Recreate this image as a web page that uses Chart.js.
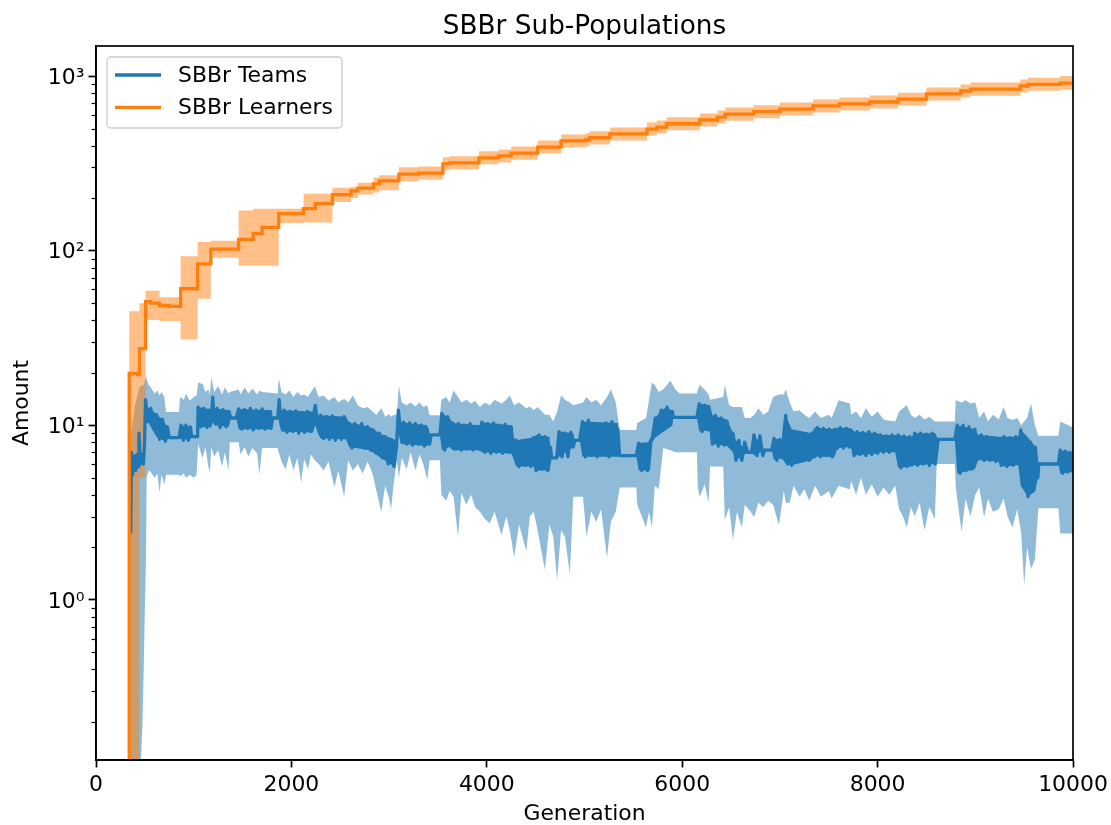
<!DOCTYPE html>
<html>
<head>
<meta charset="utf-8">
<title>SBBr Sub-Populations</title>
<script src="https://cdn.jsdelivr.net/npm/chart.js@4.4.1/dist/chart.umd.min.js"></script>
<style>
  html, body { margin: 0; padding: 0; background: #fff; }
  #wrap { width: 1111px; height: 825px; }
</style>
</head>
<body>
<div id="wrap"><canvas id="chart" width="1111" height="825"></canvas></div>
<script>
// learners (stepped curve, mean and min/max band)
const learnerGen = [320, 340, 425, 445, 507, 560, 650, 750, 866, 1040, 1175, 1460, 1610, 1700, 1870, 2125, 2245, 2420, 2610, 2680,
  2840, 2900, 3100, 3300, 3550, 3620, 3920, 4120, 4250, 4520, 4760, 5010, 5050, 5260, 5640, 5740, 5840, 6180, 6360, 6440,
  6730, 7000, 7340, 7610, 7920, 8210, 8500, 8850, 8950, 9460, 9540, 9870, 10000];
const learnerMean = [0.1, 19.8, 19.5, 27.5, 51, 50, 48.5, 48, 60.5, 84, 102, 116, 125, 136, 163, 174, 186, 209, 220, 228,
  241, 251, 274, 278, 314, 318, 340, 349, 362, 392, 425, 431, 443, 466, 497, 510, 533, 560, 582, 605,
  625, 647, 674, 692, 710, 737, 790, 821, 842, 877, 897, 910, 910];
const learnerLo = [0.1, 0.1, 0.1, 5, 40, 40, 39.5, 39.5, 31, 53, 91, 82, 82, 82, 144, 145, 145, 190, 200, 210,
  215, 222, 250, 255, 288, 292, 312, 320, 332, 360, 390, 395, 406, 427, 456, 468, 489, 514, 534, 555,
  573, 594, 618, 635, 651, 676, 725, 753, 772, 805, 823, 835, 835];
const learnerHi = [0.1, 45, 45, 50, 59, 59, 54, 54, 93, 112, 114, 170, 174, 174, 174, 212, 212, 229, 232, 245,
  262, 270, 300, 303, 343, 347, 371, 380, 395, 427, 463, 470, 483, 508, 542, 556, 581, 610, 634, 660,
  681, 705, 735, 754, 774, 803, 861, 895, 918, 956, 978, 1000, 1000];

// teams mean (fast oscillating curve)
const teamGen = [355, 362, 375, 390, 405, 420, 432, 440, 452, 470, 485, 497, 507, 530, 560, 590, 620, 650, 680, 710,
  730, 750, 850, 870, 895, 920, 945, 965, 980, 1040, 1045, 1075, 1105, 1135, 1160, 1180, 1195, 1210, 1240, 1270,
  1300, 1330, 1360, 1380, 1435, 1460, 1490, 1520, 1550, 1580, 1610, 1640, 1670, 1700, 1730, 1760, 1790, 1810, 1860, 1875,
  1895, 1925, 1955, 1985, 2015, 2045, 2075, 2105, 2135, 2165, 2195, 2220, 2245, 2270, 2300, 2330, 2360, 2390, 2420, 2450,
  2480, 2510, 2540, 2560, 2590, 2620, 2650, 2690, 2720, 2750, 2780, 2810, 2840, 2870, 2900, 2930, 2960, 2990, 3020, 3050,
  3075, 3095, 3120, 3150, 3180, 3210, 3240, 3270, 3300, 3330, 3360, 3390, 3415, 3430, 3520, 3540, 3570, 3600, 3620, 3650,
  3680, 3710, 3740, 3770, 3800, 3830, 3860, 3890, 3920, 3950, 3980, 4010, 4040, 4070, 4100, 4130, 4160, 4190, 4220, 4250,
  4270, 4300, 4330, 4360, 4390, 4420, 4450, 4475, 4505, 4535, 4565, 4595, 4625, 4650, 4665, 4715, 4740, 4770, 4800, 4830,
  4860, 4885, 4900, 4950, 4980, 5010, 5040, 5070, 5100, 5130, 5160, 5190, 5220, 5250, 5280, 5310, 5340, 5360, 5530, 5555,
  5585, 5615, 5645, 5670, 5695, 5725, 5755, 5785, 5815, 5845, 5875, 5900, 5910, 6150, 6175, 6205, 6235, 6265, 6285, 6310,
  6340, 6370, 6400, 6430, 6460, 6490, 6520, 6550, 6580, 6610, 6640, 6670, 6710, 6735, 6765, 6795, 6825, 6845, 6915, 6940,
  6970, 7000, 7020, 7045, 7060, 7080, 7100, 7120, 7150, 7180, 7210, 7240, 7270, 7300, 7325, 7355, 7385, 7415, 7445, 7475,
  7505, 7535, 7560, 7590, 7620, 7650, 7680, 7710, 7730, 7760, 7790, 7820, 7850, 7880, 7910, 7940, 7970, 8000, 8030, 8060,
  8090, 8120, 8150, 8180, 8210, 8240, 8270, 8300, 8330, 8350, 8380, 8410, 8440, 8470, 8500, 8530, 8560, 8590, 8620, 8790,
  8815, 8845, 8875, 8905, 8935, 8965, 8995, 9030, 9060, 9090, 9120, 9150, 9180, 9210, 9235, 9265, 9295, 9325, 9355, 9385,
  9415, 9440, 9465, 9490, 9515, 9540, 9565, 9590, 9615, 9640, 9650, 9850, 9870, 9895, 9920, 9945, 9970, 10000];
const teamMean = [2.4, 7.0, 5.2, 6.5, 5.5, 6.8, 5.8, 9.0, 6.0, 6.8, 6.0, 8.0, 14.0, 10.5, 12.5, 9.5, 11.5, 8.3, 10.8, 8.1,
  9.8, 8.5, 8.5, 10.0, 8.2, 10.0, 8.2, 9.8, 8.6, 8.6, 12.7, 9.8, 12.5, 9.7, 12.2, 10.5, 14.5, 10.5, 12.5, 9.7,
  12.3, 9.8, 12.0, 11.0, 11.0, 12.4, 9.5, 12.3, 9.6, 12.5, 9.4, 12.2, 9.6, 12.4, 9.5, 12.0, 9.6, 11.0, 11.0, 14.0,
  10.0, 12.2, 9.1, 12.0, 9.2, 12.1, 9.0, 11.8, 9.1, 12.0, 9.2, 11.0, 13.0, 10.0, 11.4, 8.4, 11.2, 8.3, 11.3, 8.2,
  11.0, 8.3, 11.2, 8.5, 10.3, 7.4, 10.2, 7.6, 10.2, 7.4, 9.8, 7.2, 9.4, 6.9, 9.0, 6.5, 8.6, 6.0, 8.3, 5.8,
  7.5, 12.2, 9.0, 10.4, 7.8, 10.3, 7.7, 10.2, 7.8, 10.0, 7.6, 9.5, 7.8, 8.8, 8.8, 11.7, 7.2, 11.2, 8.0, 10.3,
  7.3, 10.2, 7.2, 10.0, 7.3, 10.2, 7.2, 9.8, 7.3, 10.4, 7.0, 10.2, 6.9, 10.3, 7.0, 10.0, 6.9, 10.1, 7.0, 9.8,
  7.2, 8.2, 5.8, 8.1, 5.9, 8.2, 5.8, 8.5, 5.5, 8.8, 5.6, 8.6, 5.5, 7.5, 6.5, 6.5, 9.2, 6.6, 9.0, 6.6,
  9.1, 7.5, 8.2, 8.2, 10.5, 6.6, 10.7, 6.7, 10.2, 6.6, 10.0, 6.8, 10.3, 6.6, 10.5, 6.8, 9.5, 6.7, 6.7, 7.9,
  5.5, 7.8, 5.5, 8.0, 8.5, 11.0, 9.0, 12.2, 9.5, 12.7, 10.0, 12.0, 11.1, 11.1, 13.3, 9.2, 13.0, 9.4, 11.4, 7.8,
  11.4, 7.6, 11.0, 7.7, 10.5, 7.6, 9.0, 6.3, 8.2, 6.3, 8.0, 7.0, 7.0, 8.8, 6.7, 8.7, 6.7, 7.2, 7.2, 8.4,
  6.3, 8.3, 6.5, 9.5, 11.4, 6.0, 9.5, 5.9, 9.0, 6.3, 9.0, 6.4, 8.9, 6.3, 9.0, 6.6, 9.7, 6.6, 9.6, 6.7,
  9.5, 6.6, 9.5, 7.4, 9.7, 7.4, 9.6, 7.5, 8.5, 6.7, 9.2, 6.8, 9.1, 6.7, 9.2, 6.8, 9.0, 6.9, 8.8, 7.0,
  8.7, 7.0, 8.8, 7.2, 8.8, 5.7, 8.7, 5.8, 8.6, 6.5, 9.0, 5.9, 9.0, 6.0, 8.9, 5.9, 9.0, 6.0, 8.3, 8.3,
  10.0, 5.3, 10.0, 5.5, 9.8, 5.6, 9.5, 6.5, 8.8, 6.3, 8.6, 6.3, 8.5, 6.2, 8.0, 5.9, 8.6, 5.8, 8.5, 5.9,
  8.6, 6.5, 9.4, 4.5, 8.5, 3.9, 8.0, 4.2, 7.5, 5.0, 6.0, 6.0, 7.2, 5.3, 7.1, 5.4, 7.0, 5.8];

// visible spread of the teams mean's fast oscillation (dark blue body)
const spreadGen = [355, 362, 370, 430, 440, 452, 490, 497, 507, 530, 560, 620, 680, 730, 750, 850, 870, 965, 980, 1040,
  1045, 1180, 1195, 1210, 1360, 1380, 1435, 1460, 1800, 1810, 1860, 1875, 1895, 2220, 2245, 2270, 2300, 2560, 2590, 2660,
  2800, 2900, 3050, 3075, 3095, 3120, 3390, 3415, 3430, 3520, 3540, 3620, 3650, 3920, 3950, 4250, 4270, 4300, 4475, 4505,
  4640, 4665, 4715, 4740, 4885, 4900, 4950, 4980, 5340, 5360, 5530, 5555, 5670, 5695, 5725, 5785, 5845, 5900, 5910, 6150,
  6175, 6285, 6310, 6460, 6520, 6550, 6670, 6710, 6735, 6845, 6915, 6940, 7020, 7060, 7120, 7325, 7355, 7560, 7590, 7730,
  7760, 8000, 8030, 8180, 8210, 8350, 8380, 8590, 8620, 8790, 8815, 8995, 9030, 9235, 9265, 9440, 9465, 9540, 9615, 9640,
  9650, 9850, 9870, 10000];
const spreadHi = [2.4, 7.0, 6.8, 6.8, 9.0, 7.0, 6.8, 8.0, 14.0, 12.5, 12.5, 11.5, 10.8, 9.8, 8.5, 8.5, 10.0, 9.8, 8.6, 8.6,
  12.7, 12.3, 14.5, 12.5, 12.2, 11.0, 11.0, 12.4, 12.2, 11.0, 11.0, 14.0, 12.2, 12.0, 13.0, 11.4, 11.4, 11.2, 10.3, 10.2,
  9.8, 9.0, 8.3, 8.0, 12.2, 10.4, 10.0, 8.8, 8.8, 8.8, 11.7, 11.0, 10.3, 10.0, 10.4, 10.0, 8.5, 8.2, 8.5, 8.8,
  8.6, 6.5, 6.5, 9.2, 9.0, 8.2, 8.2, 10.5, 10.3, 6.7, 6.7, 7.9, 8.0, 8.5, 11.0, 12.2, 12.7, 12.0, 11.1, 11.1,
  13.3, 13.0, 11.4, 10.8, 9.0, 8.2, 7.0, 7.0, 8.8, 7.2, 7.2, 8.4, 8.3, 11.4, 9.5, 9.0, 9.7, 9.5, 9.7, 9.6,
  9.2, 9.0, 8.8, 8.8, 8.8, 8.6, 9.0, 9.0, 8.3, 8.3, 10.0, 9.5, 8.8, 8.6, 8.6, 8.6, 9.4, 8.5, 7.5, 6.5,
  6.0, 6.0, 7.2, 7.0];
const spreadLo = [2.4, 5.2, 5.3, 5.6, 6.0, 6.0, 6.0, 7.0, 13.0, 10.5, 9.8, 8.6, 8.2, 8.3, 8.5, 8.5, 8.3, 8.3, 8.6, 8.6,
  9.8, 9.7, 10.5, 10.0, 9.8, 11.0, 11.0, 9.5, 9.5, 11.0, 11.0, 10.5, 9.2, 9.1, 10.0, 9.0, 8.4, 8.3, 7.5, 7.4,
  7.2, 6.6, 5.8, 7.3, 9.0, 7.8, 7.6, 7.8, 8.8, 8.8, 7.2, 7.5, 7.2, 7.2, 7.0, 6.9, 6.5, 5.8, 5.8, 5.5,
  5.5, 6.5, 6.5, 6.6, 7.5, 8.2, 8.2, 6.6, 6.6, 6.7, 6.7, 5.5, 5.5, 8.0, 8.5, 9.0, 9.5, 10.0, 11.1, 11.1,
  9.2, 9.4, 7.8, 7.6, 7.0, 6.3, 7.0, 7.0, 6.7, 7.2, 7.2, 6.3, 6.5, 6.0, 5.9, 6.3, 6.6, 6.6, 7.4, 7.5,
  6.7, 6.9, 7.0, 7.0, 5.7, 5.8, 5.9, 6.0, 8.3, 8.3, 5.3, 5.6, 6.3, 6.2, 5.8, 5.9, 4.5, 3.9, 4.2, 5.0,
  6.0, 6.0, 5.3, 5.4];

// teams min / max band
const bandGen = [330, 345, 400, 445, 460, 475, 490, 500, 512, 518, 540, 560, 600, 630, 650, 670, 700, 717, 850, 860, 900, 920,
  960, 1000, 1030, 1045, 1090, 1120, 1150, 1165, 1180, 1210, 1250, 1290, 1320, 1355, 1370, 1460, 1480, 1520, 1560, 1600,
  1650, 1672, 1700, 1860, 1870, 1900, 1940, 1980, 2020, 2060, 2100, 2130, 2170, 2200, 2240, 2280, 2330, 2380, 2440, 2480,
  2540, 2580, 2630, 2680, 2730, 2780, 2830, 2870, 2920, 2960, 3000, 3020, 3050, 3080, 3100, 3130, 3180, 3220, 3270, 3310,
  3350, 3390, 3415, 3520, 3535, 3585, 3620, 3660, 3706, 3740, 3790, 3840, 3880, 3930, 3980, 4030, 4080, 4150, 4200, 4235,
  4280, 4330, 4405, 4440, 4480, 4520, 4595, 4640, 4680, 4720, 4760, 4800, 4850, 4885, 4985, 5020, 5070, 5120, 5170, 5230,
  5270, 5320, 5360, 5530, 5540, 5630, 5660, 5690, 5720, 5760, 5805, 5880, 5930, 5975, 6150, 6160, 6180, 6230, 6270, 6285,
  6420, 6436, 6480, 6520, 6560, 6610, 6641, 6700, 6737, 6780, 6830, 6880, 6930, 6990, 7040, 7060, 7100, 7140, 7200, 7250,
  7300, 7360, 7420, 7500, 7530, 7600, 7715, 7730, 7780, 7830, 7880, 7940, 8000, 8060, 8120, 8180, 8220, 8260, 8300, 8340,
  8380, 8430, 8480, 8530, 8586, 8605, 8790, 8800, 8860, 8900, 8950, 9000, 9040, 9090, 9130, 9180, 9240, 9290, 9330, 9380,
  9430, 9470, 9500, 9530, 9570, 9610, 9645, 9850, 9870, 10000];
const teamLo = [0.1, 0.1, 0.1, 0.1, 0.12, 0.19, 0.44, 0.9, 1.7, 5.0, 5.5, 5.4, 5.0, 5.3, 4.1, 5.2, 4.6, 5.2, 5.2, 5.1, 5.3, 5.0,
  5.2, 5.0, 5.2, 7.8, 6.5, 7.5, 5.8, 5.4, 7.5, 6.6, 7.2, 5.8, 7.0, 5.5, 8.0, 8.0, 6.8, 7.5, 6.6, 7.4,
  6.9, 5.2, 7.4, 7.4, 7.0, 6.2, 5.6, 6.8, 5.5, 6.5, 4.7, 6.4, 5.6, 6.8, 6.3, 6.0, 5.5, 6.2, 4.4, 5.5,
  3.9, 6.3, 5.5, 6.0, 5.3, 6.2, 5.3, 4.2, 3.2, 4.5, 3.8, 3.3, 4.8, 6.3, 5.0, 6.5, 5.6, 7.0, 5.5, 6.8,
  6.0, 4.85, 6.3, 6.3, 4.0, 3.7, 4.2, 3.9, 2.3, 4.1, 3.5, 4.0, 3.4, 3.2, 2.9, 2.75, 3.2, 2.35, 3.0, 2.5,
  1.76, 2.7, 1.9, 3.0, 3.2, 2.5, 1.48, 2.7, 2.3, 1.3, 2.5, 2.3, 1.4, 3.9, 3.9, 2.3, 3.2, 2.8, 3.3, 1.74,
  2.8, 3.2, 4.4, 4.4, 3.5, 2.6, 3.2, 2.6, 4.5, 4.3, 7.4, 7.2, 7.0, 7.0, 7.0, 4.4, 3.9, 4.6, 3.6, 5.8,
  5.8, 2.86, 3.4, 2.2, 3.2, 2.6, 3.5, 3.2, 2.98, 3.6, 3.4, 3.7, 3.5, 2.68, 4.2, 3.6, 3.6, 4.5, 3.9, 4.3,
  3.7, 4.5, 3.9, 4.2, 3.8, 4.5, 4.3, 4.8, 4.0, 5.0, 4.0, 4.6, 3.9, 4.4, 4.0, 4.5, 3.3, 3.0, 2.6, 3.4,
  3.0, 3.6, 2.5, 3.4, 2.9, 6.0, 6.0, 4.4, 2.45, 3.8, 3.0, 4.0, 4.4, 2.98, 3.8, 3.2, 3.3, 3.8, 3.0, 2.6,
  3.3, 2.4, 1.22, 2.0, 1.5, 1.7, 3.35, 3.35, 2.4, 2.4];
const teamHi = [0.1, 8, 13, 16.5, 16.8, 17, 17, 18, 19.3, 18.5, 17, 16.5, 15.2, 15.8, 14.8, 15.5, 14.5, 11.9, 11.9, 14.5, 14.0, 15.2,
  13.8, 14.5, 14.8, 17.6, 17.2, 15.5, 16.0, 15.0, 18.8, 15.5, 16.8, 15.0, 16.5, 15.2, 15.5, 16.0, 15.0, 16.5, 15.2, 16.2,
  15.0, 15.8, 15.5, 15.2, 18.5, 15.5, 15.0, 15.8, 14.5, 15.5, 14.8, 15.0, 14.5, 15.5, 16.7, 14.5, 14.8, 13.8, 14.5, 13.5,
  14.2, 13.5, 14.8, 13.0, 12.5, 12.7, 12.0, 11.5, 12.5, 11.2, 11.6, 11.2, 11.5, 11.5, 16.9, 13.5, 13.0, 13.5, 12.8, 13.5,
  12.7, 13.0, 11.4, 11.4, 14.0, 14.5, 13.5, 15.8, 14.5, 13.5, 14.0, 13.3, 13.8, 12.7, 13.5, 13.0, 14.0, 13.3, 14.0, 14.8,
  13.0, 13.5, 12.5, 12.8, 12.2, 12.7, 11.5, 11.5, 10.5, 12.0, 14.8, 14.0, 13.5, 13.0, 13.5, 14.5, 13.5, 14.0, 13.0, 14.5,
  16.0, 13.5, 9.4, 9.4, 10.3, 11.0, 14.0, 17.6, 17.0, 15.5, 16.0, 18.0, 16.0, 15.2, 15.2, 16.0, 17.0, 16.0, 15.0, 14.0,
  14.5, 17.0, 13.0, 12.7, 12.7, 12.7, 11.0, 11.0, 11.5, 12.5, 11.5, 12.0, 14.5, 15.0, 15.0, 16.0, 13.5, 12.0, 12.2, 11.5,
  11.0, 12.0, 11.0, 11.5, 11.0, 13.9, 13.3, 11.5, 12.0, 11.0, 12.5, 11.2, 12.0, 10.8, 10.6, 10.5, 12.0, 12.5, 13.0, 11.5,
  11.0, 11.5, 10.8, 11.2, 10.5, 10.5, 10.5, 13.9, 13.5, 13.9, 13.3, 13.5, 11.0, 12.0, 10.5, 11.5, 10.8, 12.7, 11.0, 10.7,
  11.0, 10.0, 10.5, 11.0, 13.3, 10.0, 8.7, 8.7, 10.5, 9.7];

const yTickLabels = {1: "10\u2070", 10: "10\u00b9", 100: "10\u00b2", 1000: "10\u00b3"};

const BLUE = "#1f77b4";
const ORANGE = "#ff7f0e";
const FONT = "'DejaVu Sans', sans-serif";
const FS = 21.9;

const pts = (xs, ys) => xs.map((x, i) => ({x: x, y: ys[i]}));

// title, full frame, minor log ticks and the in-plot legend
const decorPlugin = {
  id: "decor",
  afterDraw(chart) {
    const ctx = chart.ctx;
    const a = chart.chartArea;
    const ys = chart.scales.y;
    ctx.save();

    ctx.strokeStyle = "#000";
    ctx.lineWidth = 1.2;
    for (let d = 0.1; d < 1000; d *= 10) {
      for (let m = 2; m <= 9; m++) {
        const v = d * m;
        if (v < ys.min || v > ys.max) continue;
        const py = Math.round(ys.getPixelForValue(v)) + 0.5;
        ctx.beginPath();
        ctx.moveTo(a.left - 4.4, py);
        ctx.lineTo(a.left, py);
        ctx.stroke();
      }
    }

    ctx.lineWidth = 1.7;
    ctx.strokeRect(a.left, a.top, a.right - a.left, a.bottom - a.top);

    ctx.fillStyle = "#000";
    ctx.font = "26.3px " + FONT;
    ctx.textAlign = "center";
    ctx.textBaseline = "alphabetic";
    ctx.fillText("SBBr Sub-Populations", (a.left + a.right) / 2, 34);

    // legend box
    const bx = 107, by = 57, bw = 235, bh = 71, r = 4;
    ctx.beginPath();
    ctx.moveTo(bx + r, by);
    ctx.arcTo(bx + bw, by, bx + bw, by + bh, r);
    ctx.arcTo(bx + bw, by + bh, bx, by + bh, r);
    ctx.arcTo(bx, by + bh, bx, by, r);
    ctx.arcTo(bx, by, bx + bw, by, r);
    ctx.closePath();
    ctx.fillStyle = "rgba(255,255,255,0.8)";
    ctx.fill();
    ctx.strokeStyle = "#cccccc";
    ctx.lineWidth = 1.3;
    ctx.stroke();

    const entries = [["SBBr Teams", BLUE, 75], ["SBBr Learners", ORANGE, 107.3]];
    ctx.font = FS + "px " + FONT;
    ctx.textAlign = "left";
    ctx.textBaseline = "middle";
    entries.forEach(([label, color, y]) => {
      ctx.strokeStyle = color;
      ctx.lineWidth = 3.3;
      ctx.beginPath();
      ctx.moveTo(115, y);
      ctx.lineTo(161, y);
      ctx.stroke();
      ctx.fillStyle = "#000";
      ctx.fillText(label, 178, y + 1);
    });

    ctx.restore();
  }
};

const band = (data, extra) => Object.assign({
  data: data,
  borderWidth: 0,
  borderColor: "rgba(0,0,0,0)",
  pointRadius: 0,
  fill: false
}, extra);

const ctx = document.getElementById("chart").getContext("2d");
new Chart(ctx, {
  type: "line",
  data: {
    datasets: [
      {
        label: "SBBr Learners",
        data: pts(learnerGen, learnerMean),
        borderColor: ORANGE,
        borderWidth: 3.3,
        stepped: true,
        pointRadius: 0,
        fill: false
      },
      {
        label: "SBBr Teams",
        data: pts(teamGen, teamMean),
        borderColor: BLUE,
        borderWidth: 3.3,
        borderJoinStyle: "round",
        pointRadius: 0,
        fill: false
      },
      band(pts(spreadGen, spreadHi), { label: "teams spread hi", backgroundColor: BLUE, fill: "+1" }),
      band(pts(spreadGen, spreadLo), { label: "teams spread lo" }),
      band(pts(learnerGen, learnerHi), { label: "learners max", backgroundColor: "rgba(255,127,14,0.5)", stepped: true, fill: "+1" }),
      band(pts(learnerGen, learnerLo), { label: "learners min", stepped: true }),
      band(pts(bandGen, teamHi), { label: "teams max", backgroundColor: "rgba(31,119,180,0.5)", fill: "+1" }),
      band(pts(bandGen, teamLo), { label: "teams min" })
    ]
  },
  options: {
    responsive: false,
    animation: false,
    devicePixelRatio: 1,
    layout: { padding: { left: 0, right: 38, top: 46, bottom: 0 } },
    plugins: {
      legend: { display: false },
      tooltip: { enabled: false },
      title: { display: false }
    },
    scales: {
      x: {
        type: "linear",
        min: 0,
        max: 10000,
        ticks: {
          stepSize: 2000,
          color: "#000",
          font: { family: FONT, size: FS },
          padding: 5,
          maxRotation: 0,
          callback: v => String(v)
        },
        grid: { drawOnChartArea: false, tickLength: 7.5, tickWidth: 1.7, tickColor: "#000" },
        border: { color: "#000", width: 1.7 },
        title: {
          display: true,
          text: "Generation",
          color: "#000",
          font: { family: FONT, size: FS, lineHeight: 1.0 },
          padding: { top: 0, bottom: 0 }
        },
        afterFit(s) {
          s.height = 65;
          s.paddingLeft = 0;
          s.paddingRight = 0;
        }
      },
      y: {
        type: "logarithmic",
        min: 0.121,
        max: 1486,
        ticks: {
          color: "#000",
          font: { family: FONT, size: FS },
          padding: 4,
          labelOffset: 2,
          autoSkip: false,
          callback: v => yTickLabels[v] || ""
        },
        afterBuildTicks(s) {
          s.ticks = [1, 10, 100, 1000].map(v => ({value: v}));
        },
        grid: { drawOnChartArea: false, tickLength: 7.5, tickWidth: 1.7, tickColor: "#000" },
        border: { color: "#000", width: 1.7 },
        title: {
          display: true,
          text: "Amount",
          color: "#000",
          font: { family: FONT, size: FS, lineHeight: 1.0 },
          padding: { top: 11, bottom: 0 }
        },
        afterFit(s) {
          s.width = 96;
          s.paddingTop = 0;
          s.paddingBottom = 0;
        }
      }
    }
  },
  plugins: [decorPlugin]
});
</script>
</body>
</html>
